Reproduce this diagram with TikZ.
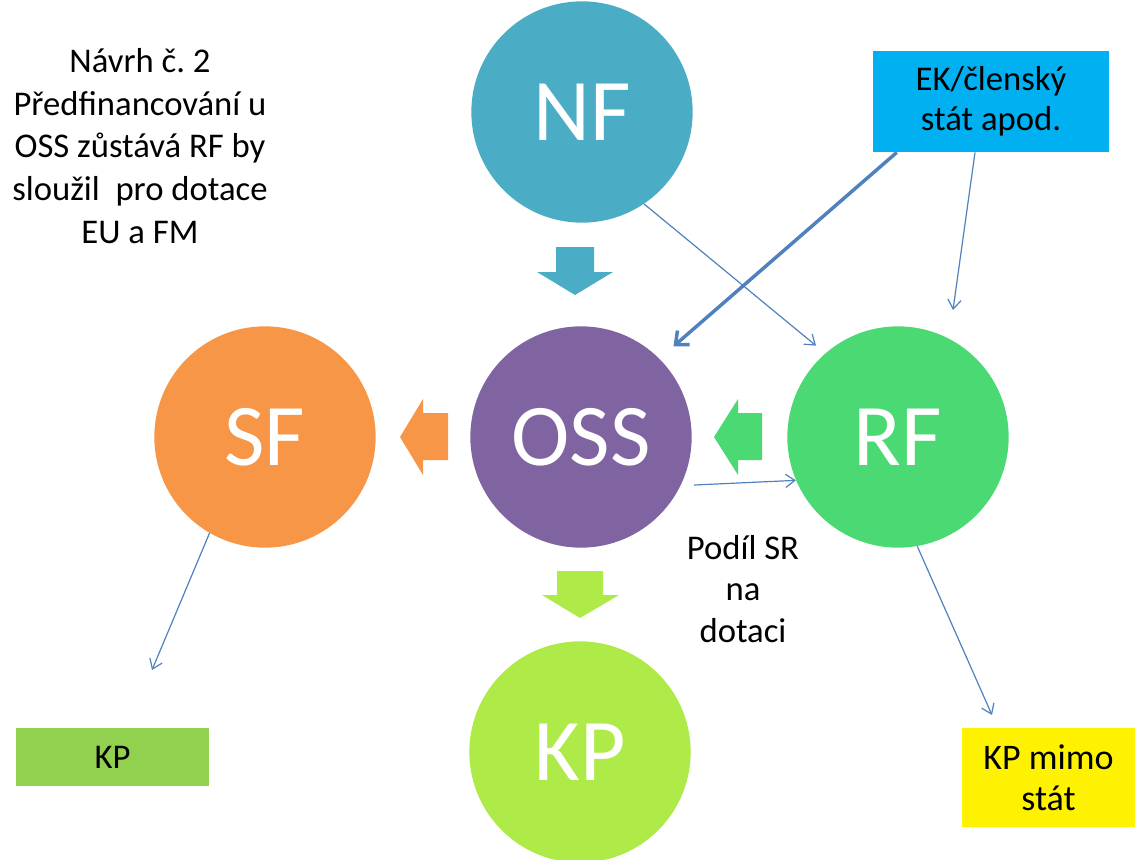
\documentclass[tikz,border=0pt]{standalone}
\usepackage{fontspec}
\setmainfont{Carlito}
\frenchspacing
\usetikzlibrary{arrows.meta}
\definecolor{nfblue}{HTML}{4BACC6}
\definecolor{osspurple}{HTML}{8064A2}
\definecolor{sforange}{HTML}{F79646}
\definecolor{rfgreen}{HTML}{4BD974}
\definecolor{kplime}{HTML}{AEEA48}
\definecolor{ekblue}{HTML}{00B0F0}
\definecolor{kpgreen}{HTML}{92D050}
\definecolor{linkblue}{HTML}{4F81BD}
\tikzset{
  bubble/.style={circle,fill=#1,minimum size=166pt,inner sep=0pt,text=white,
    font=\fontsize{66}{70}\selectfont},
  tagbox/.style={fill=#1,inner sep=0pt,align=center,font=\fontsize{26}{30}\selectfont},
  txt/.style={align=center,font=\fontsize{26}{32}\selectfont},
  link/.style={draw=linkblue,line width=0.9pt,-{Straight Barb[length=7pt,width=10pt]}},
  biglink/.style={draw=linkblue,line width=2.6pt,-{Straight Barb[length=8pt,width=14pt]}}
}

\begin{document}
\begin{tikzpicture}[x=0.75pt,y=-0.75pt]
    \useasboundingbox (0,0) rectangle (1135,860);
    \node[txt] (title) at (140,146)
        {Návrh č. 2\\Předfinancování u\\OSS zůstává RF by\\sloužil\ \ pro dotace\\EU a FM};
    \node[bubble=nfblue]    (NF)  at (582,112) {NF};
    \node[bubble=osspurple] (OSS) at (581,437) {OSS};
    \node[bubble=sforange]  (SF)  at (265,437) {SF};
    \node[bubble=rfgreen]   (RF)  at (898,437) {RF};
    \node[bubble=kplime]    (KP)  at (580,752) {KP};
    \node[tagbox=ekblue,minimum width=177pt,minimum height=76pt] (EK) at (991,101.5)
        {EK/členský\\stát apod.};
    \node[tagbox=kpgreen,minimum width=145pt,minimum height=43.5pt] (KPbox) at (112.5,757) {KP};
    \node[tagbox=yellow,minimum width=130pt,minimum height=74pt,
        font=\fontsize{27}{31}\selectfont] (KPmimo) at (1048.5,777.5) {KP mimo\\stát};
    \node[txt,font=\fontsize{26}{31}\selectfont] (podil) at (743,589) {Podíl SR\\na\\dotaci};
    \fill[nfblue] (556,247) -- (594,247) -- (594,272) -- (613,272) -- (575,295)
        -- (537,272) -- (556,272) -- cycle;
    \fill[kplime] (557,571) -- (603,571) -- (603,595) -- (619,595) -- (580,618)
        -- (542,595) -- (557,595) -- cycle;
    \fill[sforange] (448,413) -- (448,460) -- (423,460) -- (423,475) -- (400,437)
        -- (423,399) -- (423,413) -- cycle;
    \fill[rfgreen] (762,413) -- (762,460) -- (738,460) -- (738,475) -- (714,437)
        -- (738,399) -- (738,413) -- cycle;
    \coordinate (sfEnd) at (152,670);
    \coordinate (ekEnd) at (953,310);
    \coordinate (rfEnd) at (992,715);
    \draw[link,shorten >=9pt] (NF.-56) -- (RF.131);
    \draw[biglink,shorten >=14pt] ([xshift=18pt]EK.south west) -- (OSS.45);
    \draw[link] ([xshift=-12pt]EK.south) -- (ekEnd);
    \draw[link,shorten <=10pt] (OSS.-26) -- (RF.-157);
    \draw[link] (SF.-120) -- (sfEnd);
    \draw[link] (RF.-80) -- (rfEnd);
\end{tikzpicture}
\end{document}
